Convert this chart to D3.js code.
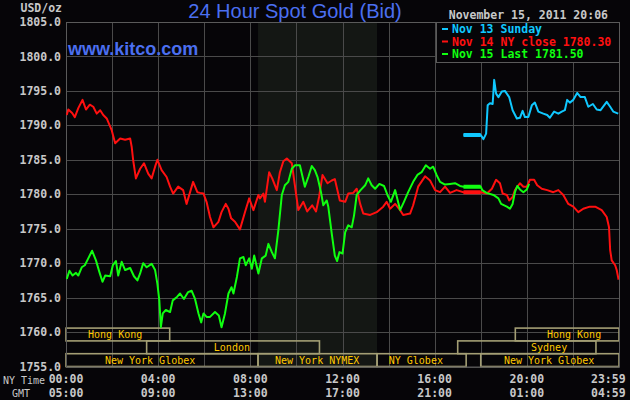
<!DOCTYPE html>
<html><head><meta charset="utf-8">
<script src="https://cdn.jsdelivr.net/npm/d3@7"></script>
<style>
html,body{margin:0;padding:0;background:#060508;}
svg{display:block;}
</style></head>
<body>
<svg id="c" width="630" height="400"></svg>
<script>
// ---------- data ----------
const yTicks = [1805,1800,1795,1790,1785,1780,1775,1770,1765,1760,1755];
const tickMinutes = [0,240,480,720,960,1200,1439];
const nyTimeLabels = ["00:00","04:00","08:00","12:00","16:00","20:00","23:59"];
const gmtLabels = ["05:00","09:00","13:00","17:00","21:00","01:00","04:59"];
const legendLabels = ["Nov 13 Sunday","Nov 14 NY close 1780.30","Nov 15 Last 1781.50"];
const seriesColors = ["#10c8ff","#ff1010","#10ff10"];
const flatWindow = [1035,1080];               // 17:15 - 18:00 pause
const flatLevels = [1788.6,1780.3,1781.1];    // Nov13, Nov14, Nov15
const nymexShade = [500,810];                 // 08:20 - 13:30

// sessions: [name, row, start, end, labelAt] (minutes NY time)
const sessions = [
  ["Hong Kong",0,0,270,128],
  ["Hong Kong",0,1170,1440,1323],
  ["London",1,210,660,432],
  ["Sydney",1,1020,1380,1258],
  ["New York Globex",2,0,500,219],
  ["New York NYMEX",2,500,810,654],
  ["NY Globex",2,810,1042,911],
  ["New York Globex",2,1080,1440,1258]
];

// Nov 14 (red)  [minute, price]
const nov14 = [[2,1791.5],[6,1792.3],[16,1791.8],[23,1791.2],[32,1792.5],[43,1793.7],[52,1792.3],[62,1793.0],[71,1792.7],[80,1791.7],[89,1792.2],[97,1791.5],[106,1791.0],[119,1789.3],[128,1787.4],[141,1788.1],[154,1787.9],[167,1788.1],[171,1786.9],[175,1784.9],[182,1782.3],[193,1783.7],[203,1784.5],[214,1783.0],[223,1782.3],[232,1784.0],[238,1785.0],[249,1783.5],[262,1782.5],[271,1781.1],[279,1780.1],[292,1781.1],[305,1780.6],[314,1778.6],[331,1781.8],[342,1780.3],[349,1780.2],[358,1780.1],[366,1778.9],[375,1776.7],[384,1775.2],[397,1776.0],[405,1777.4],[416,1778.6],[423,1777.9],[430,1776.5],[440,1776.0],[453,1774.9],[466,1777.4],[477,1779.4],[488,1777.7],[501,1779.9],[505,1779.4],[514,1780.1],[518,1778.9],[529,1783.2],[537,1782.3],[549,1780.6],[557,1783.2],[566,1784.8],[575,1785.2],[588,1784.5],[596,1781.3],[605,1777.7],[618,1778.9],[628,1777.5],[641,1778.4],[651,1777.5],[659,1779.6],[668,1782.8],[681,1781.6],[692,1782.0],[700,1782.2],[713,1779.1],[727,1778.9],[735,1780.1],[748,1780.2],[757,1780.8],[766,1778.6],[774,1777.2],[792,1777.0],[809,1777.4],[826,1778.2],[835,1778.9],[844,1777.9],[857,1778.6],[870,1777.7],[878,1777.0],[896,1777.2],[904,1778.4],[917,1781.1],[935,1782.6],[948,1782.0],[961,1780.6],[974,1780.3],[987,1781.1],[1000,1780.2],[1017,1780.6],[1035,1780.3],[1080,1780.3],[1096,1780.1],[1109,1780.8],[1120,1782.1],[1130,1781.6],[1137,1780.1],[1148,1779.9],[1154,1779.1],[1163,1779.6],[1169,1780.6],[1182,1781.6],[1191,1781.1],[1200,1781.1],[1208,1782.1],[1219,1782.1],[1227,1781.3],[1239,1780.8],[1253,1780.6],[1269,1780.3],[1282,1780.6],[1295,1779.9],[1308,1778.6],[1321,1778.2],[1334,1777.4],[1347,1777.9],[1364,1778.2],[1378,1778.2],[1395,1777.7],[1408,1776.7],[1414,1775.2],[1417,1771.9],[1421,1770.4],[1430,1769.7],[1434,1769.0],[1439,1767.6]];

// Nov 15 (green)
const nov15 = [[2,1767.7],[9,1768.9],[17,1768.2],[26,1768.6],[32,1768.2],[41,1769.4],[49,1769.7],[58,1770.7],[68,1771.8],[78,1770.4],[87,1768.7],[95,1767.3],[102,1768.2],[115,1768.1],[122,1769.7],[130,1770.3],[136,1768.2],[145,1770.2],[154,1769.0],[167,1769.3],[177,1768.1],[186,1767.5],[193,1768.5],[201,1770.0],[210,1769.4],[223,1769.9],[232,1769.0],[238,1767.0],[243,1764.6],[247,1760.7],[252,1762.7],[260,1763.2],[271,1762.9],[278,1764.6],[289,1765.1],[297,1765.6],[307,1764.8],[318,1765.8],[327,1766.0],[336,1764.8],[345,1762.7],[352,1761.4],[358,1762.7],[366,1762.2],[375,1762.2],[388,1762.9],[398,1762.4],[405,1760.7],[414,1762.7],[423,1765.6],[431,1766.5],[436,1765.6],[445,1768.0],[453,1770.7],[462,1770.9],[468,1769.7],[477,1770.7],[484,1769.2],[490,1771.1],[501,1768.5],[510,1770.7],[520,1771.1],[527,1772.8],[536,1771.6],[544,1770.7],[553,1774.8],[562,1779.9],[570,1781.3],[579,1781.8],[588,1783.7],[596,1784.2],[609,1784.2],[622,1781.1],[631,1782.5],[640,1784.1],[648,1783.5],[655,1782.5],[664,1780.3],[670,1778.4],[679,1779.1],[683,1778.2],[692,1774.3],[700,1771.1],[706,1770.3],[712,1771.6],[720,1771.4],[727,1774.5],[735,1775.5],[744,1775.2],[750,1776.9],[757,1779.9],[767,1780.6],[779,1781.3],[787,1782.3],[796,1781.3],[805,1780.8],[816,1781.5],[828,1781.2],[837,1779.9],[846,1778.9],[857,1780.6],[870,1777.7],[880,1778.9],[891,1780.3],[904,1781.8],[915,1782.8],[926,1783.2],[937,1784.2],[948,1783.7],[956,1784.0],[965,1782.8],[974,1781.8],[987,1781.4],[1000,1781.5],[1013,1781.6],[1026,1781.2],[1035,1781.1],[1080,1781.1],[1084,1780.6],[1095,1780.2],[1113,1779.9],[1126,1779.4],[1133,1778.6],[1148,1778.2],[1156,1777.9],[1163,1778.6],[1169,1780.3],[1175,1781.2],[1182,1780.7],[1191,1780.3],[1200,1780.7],[1206,1781.5]];

// Nov 13 (blue)
const nov13 = [[1035,1788.6],[1080,1788.6],[1087,1788.0],[1094,1788.8],[1098,1792.9],[1104,1793.2],[1111,1793.1],[1115,1796.6],[1120,1794.6],[1126,1794.1],[1135,1794.9],[1143,1795.0],[1154,1794.1],[1163,1792.2],[1174,1791.0],[1182,1791.1],[1189,1792.1],[1195,1791.2],[1204,1791.2],[1213,1792.9],[1221,1793.3],[1230,1792.0],[1243,1791.7],[1253,1791.5],[1260,1791.1],[1271,1792.0],[1282,1791.7],[1291,1792.0],[1299,1792.2],[1305,1793.7],[1312,1793.3],[1321,1793.7],[1331,1794.7],[1340,1794.1],[1351,1794.1],[1360,1792.7],[1372,1793.1],[1382,1792.3],[1392,1792.2],[1408,1793.4],[1417,1792.7],[1425,1792.0],[1438,1791.7]];

// ---------- drawing ----------
const svg = d3.select("#c");
const L = 66, R = 619, T = 22, B = 366.5;
const x = d3.scaleLinear().domain([0,1440]).range([L,R]);
const y = d3.scaleLinear().domain([1755,1805]).range([B,T]);
const mono = "'DejaVu Sans Mono', 'Liberation Mono', monospace";
const gridCol = "#4a4a4a";

svg.append("rect").attr("width",630).attr("height",400).attr("fill","#060508");

// NYMEX shade
svg.append("rect").attr("x",x(nymexShade[0])).attr("y",T)
  .attr("width",x(nymexShade[1])-x(nymexShade[0])).attr("height",B-T).attr("fill","#141714");

// grid
const g = svg.append("g");
g.selectAll("line.h").data(yTicks).enter().append("line")
  .attr("x1",L).attr("x2",R).attr("y1",d=>Math.round(y(d))+0.5).attr("y2",d=>Math.round(y(d))+0.5)
  .attr("stroke",gridCol).attr("stroke-width",1);
g.selectAll("line.v").data(d3.range(0,1441,120)).enter().append("line")
  .attr("y1",T).attr("y2",B).attr("x1",d=>Math.round(x(d))+0.5).attr("x2",d=>Math.round(x(d))+0.5)
  .attr("stroke",gridCol).attr("stroke-width",1);

// y labels
svg.selectAll("text.yl").data(yTicks).enter().append("text")
  .attr("x",61).attr("y",d=>y(d)).attr("dy","0.36em").attr("text-anchor","end")
  .attr("font-family",mono).attr("font-weight","bold").attr("font-size","11.5px").attr("fill","#c8c8c8")
  .text(d=>d.toFixed(1));
svg.append("text").attr("x",62).attr("y",8).attr("dy","0.36em").attr("text-anchor","end")
  .attr("font-family",mono).attr("font-weight","bold").attr("font-size","11.5px").attr("fill","#c8c8c8").text("USD/oz");

// x labels
const xl = (labels, yy) => svg.selectAll(null).data(labels).enter().append("text")
  .attr("x",(d,i)=> i===labels.length-1 ? x(tickMinutes[i])+7 : x(tickMinutes[i]))
  .attr("y",yy).attr("dy","0.36em")
  .attr("text-anchor",(d,i)=> i===labels.length-1 ? "end":"middle")
  .attr("font-family",mono).attr("font-weight","bold").attr("font-size","11.5px").attr("fill","#c8c8c8")
  .text(d=>d);
xl(nyTimeLabels,379);
xl(gmtLabels,393);
svg.append("text").attr("x",3).attr("y",380).attr("dy","0.36em").attr("font-family",mono)
  .attr("font-size","10px").attr("fill","#c8c8c8").text("NY Time");
svg.append("text").attr("x",12).attr("y",393).attr("dy","0.36em").attr("font-family",mono)
  .attr("font-size","10px").attr("fill","#c8c8c8").text("GMT");

// sessions
const rowH = 12.8, rowTop = B - 3*rowH;
const sg = svg.append("g");
sg.selectAll("rect").data(sessions).enter().append("rect")
  .attr("x",d=>x(d[2])).attr("y",d=>rowTop+d[1]*rowH)
  .attr("width",d=>x(d[3])-x(d[2])).attr("height",rowH)
  .attr("fill","none").attr("stroke","#a39e74").attr("stroke-width",1.6);
sg.selectAll("text").data(sessions).enter().append("text")
  .attr("x",d=>x(d[4])).attr("y",d=>rowTop+d[1]*rowH+rowH/2).attr("dy","0.36em")
  .attr("text-anchor","middle").attr("font-family",mono).attr("font-size","10px")
  .attr("fill","#ffc800").text(d=>d[0]);

// plot border
svg.append("rect").attr("x",L+0.5).attr("y",T+0.5).attr("width",R-L).attr("height",B-T)
  .attr("fill","none").attr("stroke","#5a5a5a");

// series
svg.append("clipPath").attr("id","clip").append("rect").attr("x",L).attr("y",T).attr("width",R-L).attr("height",B-T);
const line = d3.line().x(d=>x(d[0])).y(d=>y(d[1]));
const lg = svg.append("g").attr("clip-path","url(#clip)");
[[nov14,1],[nov15,2],[nov13,0]].forEach(([data,ci])=>{
  lg.append("path").datum(data).attr("d",line).attr("fill","none")
    .attr("stroke",seriesColors[ci]).attr("stroke-width",2).attr("stroke-linejoin","round");
  lg.append("line").attr("x1",x(flatWindow[0])).attr("x2",x(flatWindow[1]))
    .attr("y1",y(flatLevels[ci])).attr("y2",y(flatLevels[ci]))
    .attr("stroke",seriesColors[ci]).attr("stroke-width",4);
});

// legend
const lgX = 436, lgY = 22;
svg.append("rect").attr("x",lgX+0.5).attr("y",lgY+0.5).attr("width",R-lgX).attr("height",40)
  .attr("fill","#060508").attr("stroke","#5a5a5a");
legendLabels.forEach((t,i)=>{
  const yy = 29 + i*12.5;
  svg.append("line").attr("x1",442).attr("x2",448).attr("y1",yy).attr("y2",yy)
    .attr("stroke",seriesColors[i]).attr("stroke-width",2);
  svg.append("text").attr("x",452).attr("y",yy).attr("dy","0.36em")
    .attr("font-family",mono).attr("font-weight","bold").attr("font-size","11.5px")
    .attr("fill",seriesColors[i]).text(t);
});
svg.append("text").attr("x",608).attr("y",15).attr("dy","0.36em").attr("text-anchor","end")
  .attr("font-family",mono).attr("font-weight","bold").attr("font-size","11.5px").attr("fill","#c8c8c8")
  .text("November 15, 2011 20:06");

// titles
svg.append("text").attr("x",295).attr("y",18).attr("text-anchor","middle")
  .attr("font-family","'Liberation Sans', Arial, sans-serif").attr("font-size","20px").attr("fill","#4b6ff0")
  .text("24 Hour Spot Gold (Bid)");
svg.append("text").attr("x",68).attr("y",55)
  .attr("font-family","'Liberation Sans', Arial, sans-serif").attr("font-weight","bold").attr("font-size","18px").attr("fill","#4b6ff0")
  .text("www.kitco.com");
</script>
</body></html>
